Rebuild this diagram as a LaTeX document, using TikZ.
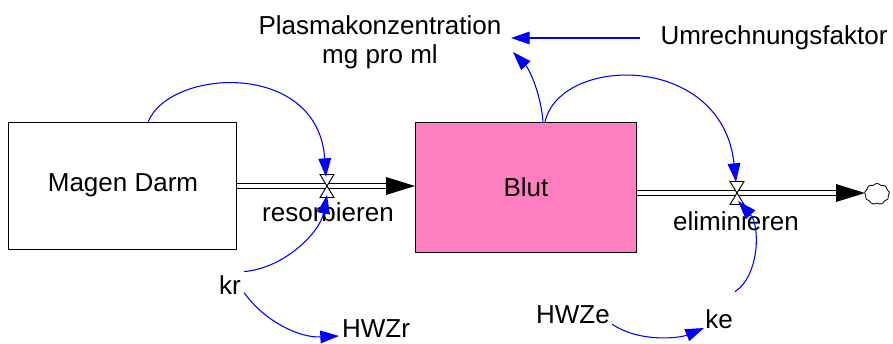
\documentclass[tikz,border=0pt]{standalone}
\usepackage{fontspec}
\setmainfont{Liberation Sans}
\usetikzlibrary{arrows.meta,shapes.symbols}
\definecolor{bluepink}{HTML}{FF80C0}
\tikzset{
  lbl/.style={font=\fontsize{19.5}{23}\selectfont, inner sep=0pt, anchor=base},
  stock/.style={draw=black, line width=0.8pt},
  pipe/.style={draw=black, line width=0.8pt, double=white, double distance=3.4pt},
  link/.style={draw=blue, line width=0.8pt, -{Triangle[length=14pt,width=9.5pt]}},
  headtri/.style={fill=black},
  valve/.pic={\draw[fill=white, line width=0.7pt] (-7,-11.5)--(7,-11.5)--(0,0)--cycle;
              \draw[fill=white, line width=0.7pt] (-7,11.5)--(7,11.5)--(0,0)--cycle;}
}
\begin{document}
\begin{tikzpicture}[x=0.75pt,y=-0.75pt]
\path[use as bounding box] (0,0) rectangle (893,343);
% stocks
\node[stock, minimum width=228*0.75pt, minimum height=127*0.75pt, anchor=north west] (magen) at (8,122) {};
\node[lbl, anchor=center] (magent) at (123,185) {Magen Darm};
\node[stock, fill=bluepink, minimum width=221*0.75pt, minimum height=130*0.75pt, anchor=north west] (blut) at (415,122) {};
\node[lbl, anchor=center] (blutt) at (526,187) {Blut};
% valves
\coordinate (vr) at (327,186);
\coordinate (ve) at (737,193);
% pipe resorbieren
\coordinate (pr1) at (237,186);
\coordinate (pr2) at (386,186);
\draw[pipe] (pr1) -- (pr2);
\fill[headtri] (386,177) -- (415,186) -- (386,195) -- cycle;
\pic at (vr) {valve};
\node[lbl] (res) at (328,221) {resorbieren};
% pipe eliminieren
\coordinate (pe1) at (637,193);
\coordinate (pe2) at (836,193);
\draw[pipe] (pe1) -- (pe2);
\fill[headtri] (836,184) -- (865,193) -- (836,202) -- cycle;
\node[cloud, draw, cloud puffs=9, cloud puff arc=110, aspect=1.2, minimum width=25*0.75pt, minimum height=21*0.75pt, inner sep=0pt, line width=0.6pt] (cloud) at (877,194) {};
\pic at (ve) {valve};
\node[lbl] (eli) at (736,230) {eliminieren};
% texts
\node[lbl, align=center, anchor=center] (plasma) at (380,42) {Plasmakonzentration\\[-1.5pt]mg pro ml};
\node[lbl] (umr) at (774,44) {Umrechnungsfaktor};
\node[lbl] (kr) at (230,294) {kr};
\node[lbl] (hwzr) at (376,337) {HWZr};
\node[lbl] (hwze) at (573,323) {HWZe};
\node[lbl] (ke) at (719,328) {ke};
% links
\coordinate (u1) at (640,38);
\coordinate (u2) at (511,38);
\draw[link] (magen.north west) ++(140,0) coordinate (m1) (m1) .. controls (170,68) and (318,60) .. (326,177);
\draw[link] (blut.north west) ++(130,0) coordinate (b1) (b1) .. controls (560,55) and (722,52) .. (736,182);
\draw[link] (blut.north west) ++(128,0) coordinate (b2) (b2) .. controls (541,95) and (530,70) .. (513,52);
\draw[link] (u1) -- (u2);
\draw[link] (kr.east) ++(3,-13) coordinate (k1) (k1) .. controls (285,268) and (320,232) .. (327,195);
\draw[link] (kr.east) ++(3,8) coordinate (k2) (k2) .. controls (265,322) and (300,338) .. (339,336);
\draw[link] (hwze.east) ++(2,10) coordinate (h1) (h1) .. controls (640,343) and (680,338) .. (704,328);
\draw[link] (ke.east) ++(2,-27) coordinate (ke1) (ke1) .. controls (760,275) and (760,225) .. (738,201);
\end{tikzpicture}
\end{document}
